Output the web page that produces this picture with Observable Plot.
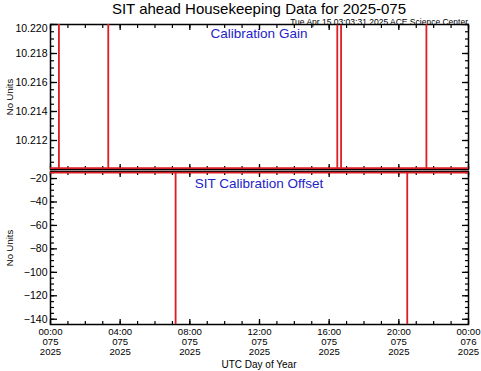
<!DOCTYPE html>
<html><head><meta charset="utf-8">
<script src="https://cdn.jsdelivr.net/npm/d3@7"></script>
<script src="https://cdn.jsdelivr.net/npm/@observablehq/plot@0.6"></script>
<style>
body{margin:0;background:#fff;font-family:"Liberation Sans",Arial,sans-serif;}
#wrap{position:relative;width:481px;height:371px;overflow:hidden;background:#fff;}
.t{position:absolute;white-space:nowrap;line-height:1;}
#wrap svg{position:absolute;left:0;overflow:visible;background:transparent;}
</style></head><body><div id="wrap"></div>
<script>
// ---- data ----
const titleText = "SIT ahead Housekeeping Data for 2025-075";
const stampText = "Tue Apr 15 03:03:31 2025 ACE Science Center";
const gainName = "Calibration Gain";
const offsetName = "SIT Calibration Offset";
const yName = "No Units";
const xName = "UTC Day of Year";

const gainTimes  = ["00:00","00:29","00:29","00:29","03:19","03:19","03:19","16:28","16:28","16:28","16:41","16:41","16:41","21:35","21:35","21:35","24:00"];
const gainValues = [10.2101,10.2101,10.2300,10.2101,10.2101,10.2300,10.2101,10.2101,10.2300,10.2101,10.2101,10.2300,10.2101,10.2101,10.2300,10.2101,10.2101];

const offsetTimes  = ["00:00","07:11","07:11","07:11","20:29","20:29","20:29","24:00"];
const offsetValues = [-15.0,-15.0,-160,-15.0,-15.0,-160,-15.0,-15.0];

const gainDomain = [10.210, 10.220];
const gainMajor = [10.210, 10.212, 10.214, 10.216, 10.218, 10.220];
const gainLabels = [10.212, 10.214, 10.216, 10.218];
const gainTopLabel = [10.220];
const offsetDomain = [-144.5, -14];
const offsetMajor = [-140, -120, -100, -80, -60, -40, -20];
const timeMajor = ["00:00","04:00","08:00","12:00","16:00","20:00","24:00"];

// ---- helpers ----
const toDate = s => { const [h, m] = s.split(":").map(Number); return new Date(Date.UTC(2025, 2, 16, h, m)); };
const xDomain = [toDate("00:00"), toDate("24:00")];
const xMajor = timeMajor.map(toDate);
const xMinor = d3.range(0, 25).map(h => new Date(Date.UTC(2025, 2, 16, h)));
const red = "#dc1e24";
const frameMarks = (yMajor, yMinor) => [
  Plot.frame({stroke: "black", strokeWidth: 1.5}),
  Plot.axisY(yMajor, {anchor: "left", tickSize: -7, fill: "none", label: null, strokeWidth: 1.3}),
  Plot.axisY(yMinor, {anchor: "left", tickSize: -4, fill: "none", label: null, strokeWidth: 1.2}),
  Plot.axisY(yMajor, {anchor: "right", tickSize: -7, fill: "none", label: null, strokeWidth: 1.3}),
  Plot.axisY(yMinor, {anchor: "right", tickSize: -4, fill: "none", label: null, strokeWidth: 1.2}),
  Plot.axisX(xMajor, {anchor: "top", tickSize: -5, fill: "none", label: null, strokeWidth: 1.3}),
  Plot.axisX(xMinor, {anchor: "top", tickSize: -3, fill: "none", label: null, strokeWidth: 1.2}),
  Plot.axisX(xMajor, {anchor: "bottom", tickSize: -5, fill: "none", label: null, strokeWidth: 1.3}),
  Plot.axisX(xMinor, {anchor: "bottom", tickSize: -3, fill: "none", label: null, strokeWidth: 1.2})
];

const gainRows = gainTimes.map((t, i) => ({t: toDate(t), v: gainValues[i]}));
const offsetRows = offsetTimes.map((t, i) => ({t: toDate(t), v: offsetValues[i]}));

const common = {
  width: 481, marginLeft: 50, marginRight: 13,
  style: {fontFamily: "'Liberation Sans', Arial, sans-serif", fontSize: "11px", background: "transparent", overflow: "visible", color: "black"}
};

const gainPlot = Plot.plot({
  ...common, height: 170, marginTop: 24, marginBottom: 1,
  x: {type: "utc", domain: xDomain, axis: null},
  y: {domain: gainDomain, axis: null},
  marks: [
    ...frameMarks(gainMajor, d3.range(10.2105, 10.2200, 0.0005)),
    Plot.line(gainRows, {x: "t", y: "v", stroke: red, strokeWidth: 1.8, clip: true}),
    Plot.axisY(gainLabels, {anchor: "left", tickSize: 0, tickPadding: 3, fontSize: 10.5, label: null, tickFormat: d3.format(".3f")}),
    Plot.axisY(gainTopLabel, {anchor: "left", tickSize: 0, tickPadding: 3, fontSize: 10.5, label: null, dy: 4, tickFormat: d3.format(".3f")})
  ]
});
gainPlot.style.top = "0px";

const offsetPlot = Plot.plot({
  ...common, height: 201, marginTop: 1, marginBottom: 47,
  x: {type: "utc", domain: xDomain, axis: null},
  y: {domain: offsetDomain, axis: null},
  marks: [
    ...frameMarks(offsetMajor, d3.range(-140, -14, 5)),
    Plot.line(offsetRows, {x: "t", y: "v", stroke: red, strokeWidth: 1.8, clip: true}),
    Plot.axisY(offsetMajor, {anchor: "left", tickSize: 0, tickPadding: 3, fontSize: 10.5, label: null, tickFormat: d => d3.format("d")(d).replace("-", "\u2212")}),
    Plot.axisX(xMajor, {anchor: "bottom", tickSize: 0, tickPadding: 4, fontSize: 9.6, lineHeight: 1.0, label: null, tickFormat: d3.utcFormat("%H:%M\n%j\n%Y")})
  ]
});
offsetPlot.style.top = "170px";

const wrap = document.getElementById("wrap");
wrap.append(gainPlot, offsetPlot);

function addText(txt, css) {
  const d = document.createElement("div");
  d.className = "t";
  d.textContent = txt;
  Object.assign(d.style, css);
  wrap.appendChild(d);
  return d;
}
addText(titleText, {left: "259px", top: "1px", fontSize: "15px", transform: "translateX(-50%)"});
addText(stampText, {right: "13px", top: "18px", fontSize: "8.5px"});
addText(gainName, {left: "259px", top: "27px", fontSize: "13.5px", color: "#2323c8", transform: "translateX(-50%)"});
addText(offsetName, {left: "259px", top: "177px", fontSize: "13.5px", color: "#2323c8", transform: "translateX(-50%)"});
addText(xName, {left: "259px", top: "360px", fontSize: "10px", transform: "translateX(-50%)"});
addText(yName, {left: "10px", top: "96.5px", fontSize: "9.5px", transform: "translate(-50%,-50%) rotate(-90deg)"});
addText(yName, {left: "10px", top: "247.5px", fontSize: "9.5px", transform: "translate(-50%,-50%) rotate(-90deg)"});
</script></body></html>
